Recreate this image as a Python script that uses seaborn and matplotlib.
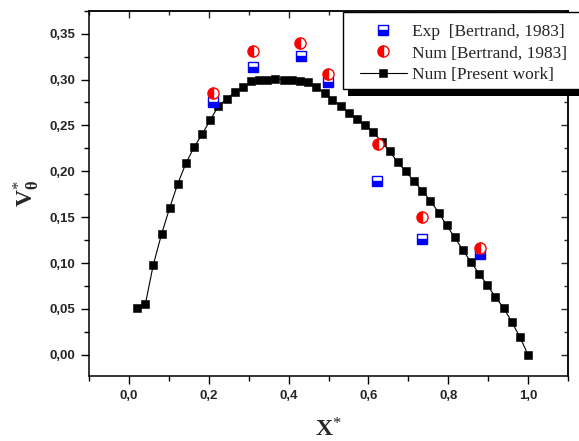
import matplotlib
matplotlib.use("Agg")
import matplotlib.pyplot as plt
import seaborn as sns
from matplotlib.patches import Rectangle
from matplotlib.transforms import IdentityTransform
from matplotlib.ticker import MultipleLocator

# Num [Present work]
x_present = [0.020, 0.041, 0.061, 0.082, 0.102, 0.122, 0.143, 0.163, 0.184, 0.204,
             0.224, 0.245, 0.265, 0.286, 0.306, 0.327, 0.347, 0.367, 0.388, 0.408,
             0.429, 0.449, 0.469, 0.490, 0.510, 0.531, 0.551, 0.571, 0.592, 0.612,
             0.633, 0.653, 0.673, 0.694, 0.714, 0.735, 0.755, 0.776, 0.796, 0.816,
             0.837, 0.857, 0.878, 0.898, 0.918, 0.939, 0.959, 0.980, 1.000]
v_present = [0.051, 0.055, 0.098, 0.132, 0.160, 0.186, 0.209, 0.226, 0.241, 0.256,
             0.271, 0.279, 0.286, 0.292, 0.298, 0.299, 0.300, 0.301, 0.300, 0.299,
             0.298, 0.297, 0.292, 0.285, 0.278, 0.271, 0.264, 0.257, 0.250, 0.243,
             0.232, 0.222, 0.210, 0.200, 0.189, 0.179, 0.168, 0.155, 0.141, 0.128,
             0.114, 0.101, 0.088, 0.076, 0.063, 0.051, 0.036, 0.019, 0.000]

# Exp [Bertrand, 1983]
x_exp = [0.210, 0.311, 0.432, 0.498, 0.622, 0.734, 0.880]
v_exp = [0.275, 0.314, 0.326, 0.297, 0.189, 0.126, 0.110]

# Num [Bertrand, 1983]
x_num = [0.210, 0.311, 0.428, 0.499, 0.625, 0.734, 0.879]
v_num = [0.285, 0.331, 0.340, 0.306, 0.230, 0.150, 0.117]

x_ticks = [0.0, 0.2, 0.4, 0.6, 0.8, 1.0]
x_ticklabels = ["0,0", "0,2", "0,4", "0,6", "0,8", "1,0"]
y_ticks = [0.00, 0.05, 0.10, 0.15, 0.20, 0.25, 0.30, 0.35]
y_ticklabels = ["0,00", "0,05", "0,10", "0,15", "0,20", "0,25", "0,30", "0,35"]

sns.set_style("white")
plt.rcParams["font.family"] = ["Liberation Sans", "DejaVu Sans"]
plt.rcParams["mathtext.fontset"] = "custom"
plt.rcParams["mathtext.rm"] = "Liberation Serif"
plt.rcParams["mathtext.bf"] = "Liberation Serif:bold"
plt.rcParams["mathtext.it"] = "Liberation Serif:italic"

W, H = 579, 441
fig = plt.figure(figsize=(W / 100, H / 100), dpi=100)
ax = fig.add_axes([89 / W, 1 - 376 / H, (568 - 89) / W, (376 - 10.7) / H])

sns.lineplot(x=x_present, y=v_present, ax=ax, color="black", linewidth=0.8,
             marker="s", markersize=5.4, markeredgecolor="black", markeredgewidth=0.4,
             errorbar=None, label="Num [Present work]", zorder=2)
sns.lineplot(x=x_exp, y=v_exp, ax=ax, color="blue", linestyle="none",
             marker="s", markersize=7, fillstyle="bottom", markerfacecoloralt="white",
             markeredgecolor="blue", markeredgewidth=1.0,
             errorbar=None, label="Exp  [Bertrand, 1983]", zorder=3)
sns.lineplot(x=x_num, y=v_num, ax=ax, color="red", linestyle="none",
             marker="o", markersize=8, fillstyle="left", markerfacecoloralt="white",
             markeredgecolor="red", markeredgewidth=1.0,
             errorbar=None, label="Num [Bertrand, 1983]", zorder=3)
if ax.get_legend() is not None:
    ax.get_legend().remove()

ax.set_xlim(-0.1, 1.1)
ax.set_ylim(-0.023, 0.375)
ax.set_xticks(x_ticks)
ax.set_xticklabels(x_ticklabels)
ax.set_yticks(y_ticks)
ax.set_yticklabels(y_ticklabels)
ax.xaxis.set_minor_locator(MultipleLocator(0.1))
ax.yaxis.set_minor_locator(MultipleLocator(0.025))
for lab in ax.get_xticklabels() + ax.get_yticklabels():
    lab.set_fontweight("bold")
    lab.set_fontsize(9.5)
ax.tick_params(which="major", direction="out", length=6, width=1, color="black",
               left=True, bottom=True, top=False, right=False, pad=4)
ax.tick_params(which="minor", direction="out", length=3.5, width=1, color="black",
               left=True, bottom=True, top=False, right=False)
for sp in ax.spines.values():
    sp.set_visible(True)
    sp.set_color("black")
    sp.set_linewidth(1.1)

# ticks espejo arriba y a la derecha (hacia dentro)
top = ax.secondary_xaxis("top")
top.set_xticks(x_ticks)
top.xaxis.set_minor_locator(MultipleLocator(0.1))
top.tick_params(which="both", direction="in", labeltop=False, width=1)
top.tick_params(which="major", length=5)
top.tick_params(which="minor", length=3)
top.spines["top"].set_linewidth(1.1)
right = ax.secondary_yaxis("right")
right.set_yticks(y_ticks)
right.yaxis.set_minor_locator(MultipleLocator(0.025))
right.tick_params(which="both", direction="in", labelright=False, width=1)
right.tick_params(which="major", length=5)
right.tick_params(which="minor", length=3)
right.spines["right"].set_linewidth(1.1)

ax.set_xlabel(r"$\mathbf{X}^{*}$", fontsize=17, labelpad=12)
ax.set_ylabel(r"$\mathbf{V}^{*}_{\mathbf{\theta}}$", fontsize=17, labelpad=6)

h = ax.get_lines()
leg = fig.legend(handles=[h[1], h[2], h[0]],
                 labels=["Exp  [Bertrand, 1983]", "Num [Bertrand, 1983]", "Num [Present work]"],
                 loc="upper left", bbox_to_anchor=(360 / W, 1 - 24 / H),
                 borderaxespad=0, frameon=False,
                 prop={"family": "Liberation Serif", "size": 12.5},
                 handlelength=2.7, handletextpad=0.3, borderpad=0, labelspacing=0.3)
leg.set_zorder(6)

# marco y sombra negra de la leyenda (en píxeles)
fig.add_artist(Rectangle((348, H - 96), 250, 77, transform=IdentityTransform(),
                         facecolor="black", edgecolor="none", zorder=4.8))
fig.add_artist(Rectangle((343, H - 89), 250, 77, transform=IdentityTransform(),
                         facecolor="white", edgecolor="black", linewidth=1.0, zorder=4.9))

fig.savefig("out.png", dpi=100)
